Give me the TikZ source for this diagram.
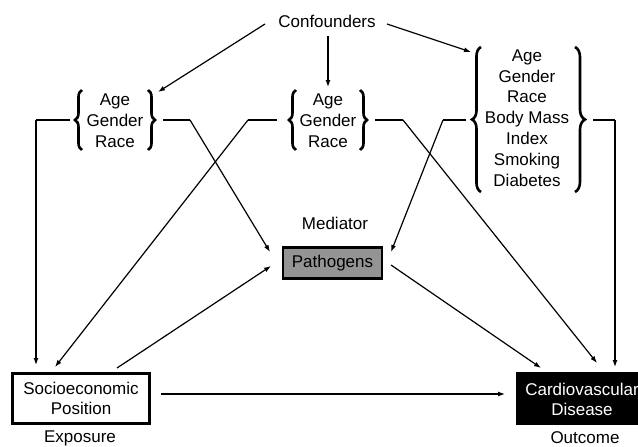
\documentclass[tikz,border=0pt]{standalone}
\usepackage{fontspec}
\setmainfont{Liberation Sans}
\usetikzlibrary{arrows.meta,decorations.pathreplacing}
\begin{document}
\begin{tikzpicture}[x=1pt,y=-1pt,
  txt/.style={font=\fontsize{17}{20.8}\selectfont, align=center, inner sep=0pt},
  arr/.style={line width=1.2pt, -{Latex[length=7pt,width=5pt]}},
  thin/.style={line width=1.2pt},
  thick/.style={line width=2.6pt},
  brc/.style={line width=2.6pt, decorate, decoration={brace, amplitude=#1}},
  brc/.default=7pt
]
\useasboundingbox (0,0) rectangle (638,447);

% labels
\node[txt] (conf) at (327,21) {Confounders};
\node[txt] (g1) at (115,121) {Age\\Gender\\Race};
\node[txt] (g2) at (328,121) {Age\\Gender\\Race};
\node[txt] (g3) at (527,118) {Age\\Gender\\Race\\Body Mass\\Index\\Smoking\\Diabetes};
\node[txt] (med) at (335,223) {Mediator};
\node[txt, draw, line width=2.2pt, fill=black!42, minimum width=99pt, minimum height=31pt] (path) at (332.5,263) {Pathogens};
\node[txt, draw, line width=2.6pt, fill=white, minimum width=137pt, minimum height=50pt] (sep) at (81,398.5) {Socioeconomic\\Position};
\node[txt, fill=black, text=white, minimum width=140pt, minimum height=53pt] (cvd) at (586,398.5) {};
\node[txt, text=white] (cvdt) at (582,399.5) {Cardiovascular\\Disease};
\node[txt] (expo) at (80,438.5) {Exposure};
\node[txt] (outc) at (585,438) {Outcome};

% braces
\draw[brc] (82,150) -- (82,90);
\draw[brc] (148,90) -- (148,150);
\draw[brc] (296,150) -- (296,90);
\draw[brc] (360,90) -- (360,150);
\draw[brc=9pt] (481,192) -- (481,47);
\draw[brc=10pt] (575,47) -- (575,192);

% coordinates
\coordinate (c1) at (265,24);
\coordinate (c1e) at (158,92);
\coordinate (c2) at (328,36);
\coordinate (c2e) at (328,87);
\coordinate (c3) at (387,24);
\coordinate (c3e) at (471,52);

\coordinate (l1a) at (70,120);
\coordinate (l1b) at (36,120);
\coordinate (l1e) at (36,365);
\coordinate (r1a) at (163,120);
\coordinate (r1b) at (190,120);
\coordinate (r1e) at (270,252);

\coordinate (l2a) at (277,120);
\coordinate (l2b) at (248,120);
\coordinate (l2e) at (55,367);
\coordinate (r2a) at (375,120);
\coordinate (r2b) at (403,120);
\coordinate (r2e) at (597,363);

\coordinate (l3a) at (466,120);
\coordinate (l3b) at (443,120);
\coordinate (l3e) at (391,252);
\coordinate (r3a) at (593,120);
\coordinate (r3b) at (615,120);
\coordinate (r3e) at (615,367);

\coordinate (p1) at (391,265);
\coordinate (p1e) at (541,368);
\coordinate (s1) at (117,368);
\coordinate (s1e) at (271,266);
\coordinate (s2) at (161,394);
\coordinate (s2e) at (505,394);

% confounder arrows
\draw[arr] (c1) -- (c1e);
\draw[arr] (c2) -- (c2e);
\draw[arr] (c3) -- (c3e);

% brace connectors
\draw[thick] (l1a) -- (l1b);
\draw[arr] (l1b) -- (l1e);
\draw[thick] (r1a) -- (r1b);
\draw[arr] (r1b) -- (r1e);

\draw[thick] (l2a) -- (l2b);
\draw[arr] (l2b) -- (l2e);
\draw[thick] (r2a) -- (r2b);
\draw[arr] (r2b) -- (r2e);

\draw[thick] (l3a) -- (l3b);
\draw[arr] (l3b) -- (l3e);
\draw[thick] (r3a) -- (r3b);
\draw[arr] (r3b) -- (r3e);

% main arrows
\draw[arr] (p1) -- (p1e);
\draw[arr] (s1) -- (s1e);
\draw[arr] (s2) -- (s2e);
\end{tikzpicture}
\end{document}
